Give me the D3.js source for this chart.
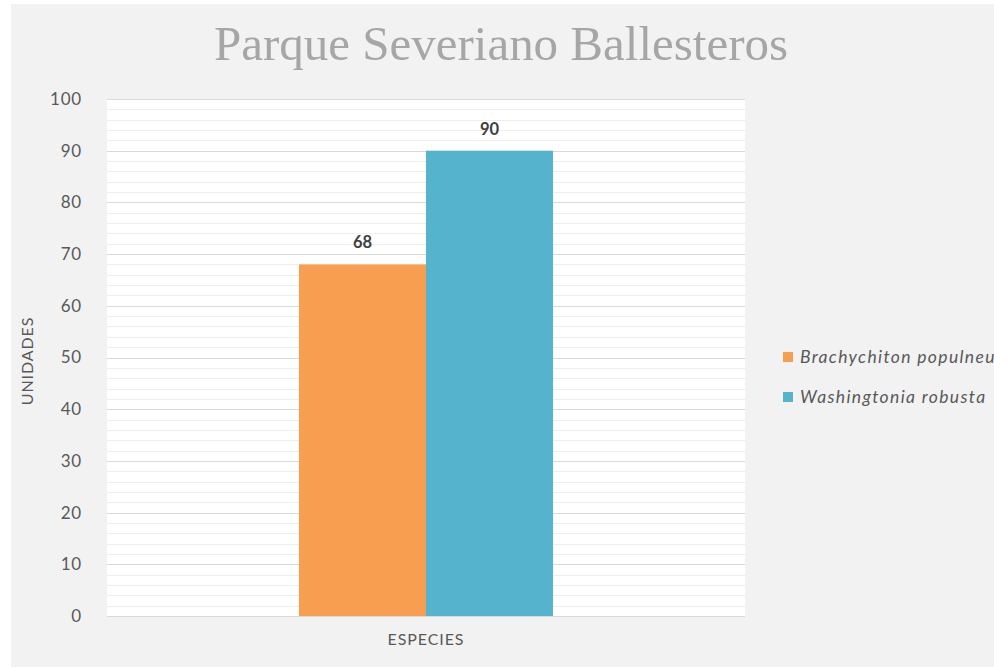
<!DOCTYPE html>
<html><head><meta charset="utf-8">
<script src="https://cdn.jsdelivr.net/npm/d3@7"></script>
<style>body{margin:0;background:#fff;}svg{display:block;}</style>
</head><body>
<script>
const title = "Parque Severiano Ballesteros";
const categories = ["ESPECIES"];
const seriesNames = ["Brachychiton populneus", "Washingtonia robusta"];
const seriesValues = [68, 90];
const seriesColors = ["#f79e50", "#56b3cd"];
const yTicks = [0,10,20,30,40,50,60,70,80,90,100];
const yMinorTicks = d3.range(0, 101, 2);

const W = 994, H = 669;
const svg = d3.select("body").append("svg").attr("width", W).attr("height", H);
svg.append("rect").attr("x", 11).attr("y", 4).attr("width", W - 11).attr("height", H - 6).attr("fill", "#f2f2f2");

const plot = {l: 107, r: 745, t: 99, b: 616};
const y = d3.scaleLinear().domain([0, 100]).range([plot.b, plot.t]);
const x0 = d3.scaleBand().domain(categories).range([plot.l, plot.r]).paddingInner(0).paddingOuter(0.756);
const x1 = d3.scaleBand().domain(seriesNames).range([0, x0.bandwidth()]);

svg.append("rect").attr("x", plot.l).attr("y", plot.t).attr("width", plot.r - plot.l).attr("height", plot.b - plot.t).attr("fill", "#fff");

const g = svg.append("g");
g.selectAll(".minor").data(yMinorTicks.filter(v => v % 10 !== 0)).join("line")
  .attr("x1", plot.l).attr("x2", plot.r)
  .attr("y1", d => Math.round(y(d)) + 0.5).attr("y2", d => Math.round(y(d)) + 0.5)
  .attr("stroke", "#eeeeee").attr("stroke-width", 1);
g.selectAll(".major").data(yTicks).join("line")
  .attr("x1", plot.l).attr("x2", plot.r)
  .attr("y1", d => Math.round(y(d)) + 0.5).attr("y2", d => Math.round(y(d)) + 0.5)
  .attr("stroke", "#d9d9d9").attr("stroke-width", 1);

const font = "Lato, 'Open Sans', sans-serif";
g.selectAll(".ytick").data(yTicks).join("text")
  .attr("x", 82).attr("y", d => y(d)).attr("dy", "0.35em")
  .attr("text-anchor", "end").attr("font-family", font).attr("font-size", 17)
  .attr("letter-spacing", 0.8).attr("fill", "#595959")
  .text(d => d);

const cat = categories[0];
seriesNames.forEach((s, i) => {
  const bx = x0(cat) + x1(s);
  svg.append("rect").attr("x", bx).attr("y", y(seriesValues[i]))
    .attr("width", x1.bandwidth()).attr("height", plot.b - y(seriesValues[i]))
    .attr("fill", seriesColors[i]);
  svg.append("text").attr("x", bx + x1.bandwidth() / 2).attr("y", y(seriesValues[i]) - 16)
    .attr("text-anchor", "middle").attr("font-family", font).attr("font-weight", "bold")
    .attr("font-size", 16.5).attr("fill", "#404040").text(seriesValues[i]);
});

svg.append("text").attr("x", x0(cat) + x0.bandwidth() / 2).attr("y", 645)
  .attr("text-anchor", "middle").attr("font-family", font).attr("font-size", 16)
  .attr("letter-spacing", 0.9).attr("fill", "#595959")
  .text(cat);

svg.append("text").attr("transform", "translate(33,361) rotate(-90)")
  .attr("text-anchor", "middle").attr("font-family", font).attr("font-size", 16)
  .attr("letter-spacing", 0.9).attr("fill", "#595959")
  .text("UNIDADES");

svg.append("text").attr("x", 501).attr("y", 60).attr("text-anchor", "middle")
  .attr("font-family", "'Liberation Serif', 'DejaVu Serif', serif").attr("font-size", 48)
  .attr("textLength", 574).attr("lengthAdjust", "spacingAndGlyphs")
  .attr("fill", "#a6a6a6").text(title);

const leg = svg.append("g");
seriesNames.forEach((s, i) => {
  const ly = 357 + i * 40;
  leg.append("rect").attr("x", 783).attr("y", ly - 5).attr("width", 10).attr("height", 10).attr("fill", seriesColors[i]);
  leg.append("text").attr("x", 800).attr("y", ly).attr("dy", "0.35em")
    .attr("font-family", font).attr("font-style", "italic").attr("font-size", 17.5)
    .attr("letter-spacing", 1.35).attr("fill", "#595959").text(s);
});
</script>
</body></html>
